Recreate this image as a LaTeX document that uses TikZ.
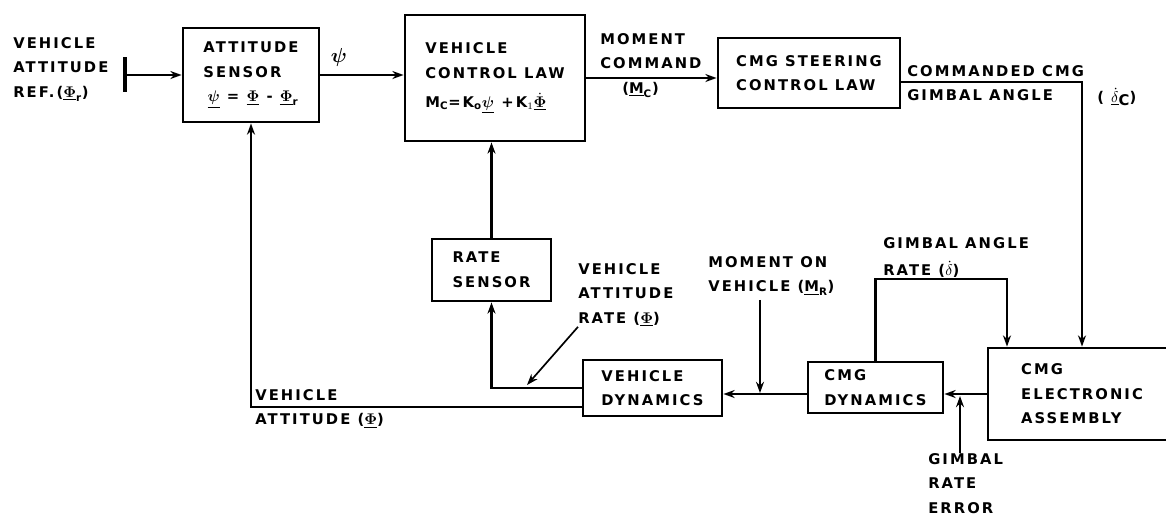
\documentclass[tikz,border=0pt]{standalone}
\usepackage{amsmath}
\usepackage[no-math]{fontspec}
\setmainfont{DejaVu Sans}[LetterSpace=14]
\usetikzlibrary{arrows.meta}

\begin{document}
\begin{tikzpicture}[
  x=0.025cm, y=-0.025cm,
  font=\fontsize{10.5}{17.5}\selectfont\bfseries,
  block/.style={
    rectangle, draw=black, line width=2pt, align=left, inner sep=0pt
  },
  lbl/.style={anchor=north west, inner sep=0pt, align=left},
  arrow/.style={-{Stealth[length=2.8mm,width=2mm]}, line width=1.8pt},
]
\clip (0,0) rectangle (1166,516);

% Forward path along the top
\node[block, minimum width=3.4cm, minimum height=2.35cm] (sensor) at (251,75)
  {ATTITUDE\\SENSOR\\\;$\underline{\boldsymbol\psi}$ = $\underline{\mathbf\Phi}$ - $\underline{\mathbf\Phi}_{\text{r}}$};
\node[block, minimum width=4.5cm, minimum height=3.15cm] (law) at (495,78)
  {VEHICLE\\CONTROL LAW\\[3pt]M$_{\text{C}}$=K$_{\text{o}}$$\underline{\boldsymbol\psi}$ +K$_1$$\dot{\underline{\mathbf\Phi}}$};
\node[block, minimum width=4.55cm, minimum height=1.75cm] (steer) at (809,73)
  {CMG STEERING\\CONTROL LAW};

% Plant and feedback along the bottom
\node[block, minimum width=2.975cm, minimum height=1.55cm] (rate) at (491.5,270)
  {RATE\\SENSOR};
\node[block, minimum width=3.475cm, minimum height=1.4cm] (vdyn) at (652.5,388)
  {VEHICLE\\DYNAMICS};
\node[block, minimum width=3.375cm, minimum height=1.275cm] (cdyn) at (875.5,387.5)
  {CMG\\DYNAMICS};
\node[block, minimum width=4.7cm, minimum height=2.3cm] (cea) at (1082,394)
  {CMG\\ELECTRONIC\\ASSEMBLY};

% Signal labels
\node[lbl] (reflbl) at (13,37) {VEHICLE\\ATTITUDE\\REF.($\underline{\mathbf\Phi}_{\text{r}}$)};
\node[font=\Large] (psilbl) at (339,57) {$\boldsymbol\psi$};
\node[lbl] (mclbl) at (600,33) {MOMENT\\COMMAND\\\hspace*{0.55cm}($\underline{\text{M}}_{\text{C}}$)};
\node[lbl] (cmdlbl) at (907,65) {COMMANDED CMG\\GIMBAL ANGLE};
\node[lbl] (dclbl) at (1097,88) {( $\underline{\dot{\delta}}$\raisebox{-2pt}{C})};
\node[lbl] (garlbl) at (883,237) {GIMBAL ANGLE\\[2pt]RATE ($\underline{\dot{\delta}}$)};
\node[lbl] (mrlbl) at (708,256) {MOMENT ON\\VEHICLE ($\underline{\text{M}}_{\text{R}}$)};
\node[lbl] (varlbl) at (578,263) {VEHICLE\\ATTITUDE\\RATE ($\underline{\mathbf\Phi}$)};
\node[lbl] (valbl) at (255,389) {VEHICLE\\ATTITUDE ($\underline{\mathbf\Phi}$)};
\node[lbl] (grelbl) at (928,453) {GIMBAL\\RATE\\ERROR};

% Junction points
\coordinate (refin) at (125,75);
\coordinate (loopc) at (1007,279);
\coordinate (mrhit) at (760,393);
\coordinate (grehit) at (960,396);
\coordinate (rhit) at (527,385);

% Forward connections
\draw[line width=2.2pt] ([yshift=0.45cm]refin) -- ([yshift=-0.42cm]refin);
\draw[arrow] (refin) -- (sensor.west);
\draw[arrow] (sensor.east) -- (sensor.east -| law.west);
\draw[arrow] (law.east) -- (law.east -| steer.west);
\draw[arrow] ([yshift=-0.225cm]steer.east) -| (cea.north);

% CMG loop
\draw[arrow] (cea.west) -- (cea.west -| cdyn.east);
\draw[arrow] (cdyn.north) |- (loopc) -- (loopc |- cea.north);
\draw[arrow] (grehit |- grelbl.north) -- (grehit);
\draw[arrow] (cea.west -| cdyn.west) -- (cea.west -| vdyn.east);
\draw[arrow] ([yshift=-0.1cm]mrhit |- mrlbl.south) -- (mrhit);

% Feedback paths
\draw[arrow] (vdyn.west) -| (rate.south);
\draw[arrow] (rate.north) -- (rate.north |- law.south);
\draw[arrow] ([yshift=-0.475cm]vdyn.west) -| (sensor.south);
\draw[arrow, line width=1.2pt] (varlbl.south west) -- (rhit);

\end{tikzpicture}
\end{document}
